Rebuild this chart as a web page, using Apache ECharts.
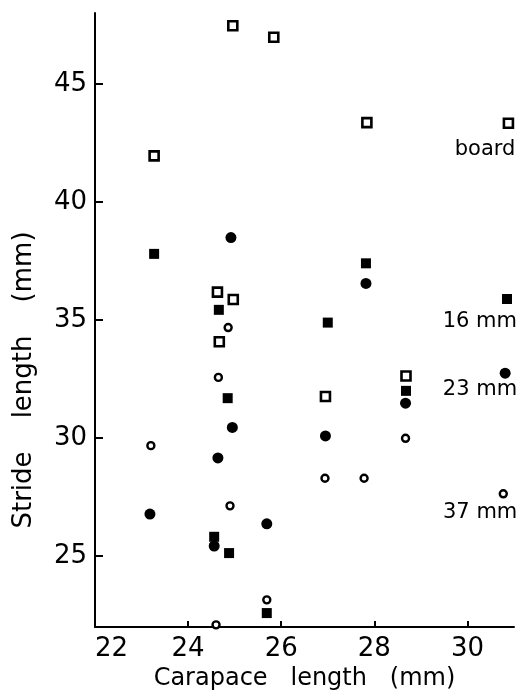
<!DOCTYPE html>
<html>
<head>
<meta charset="utf-8">
<script src="https://cdn.jsdelivr.net/npm/echarts@6/dist/echarts.min.js"></script>
<style>
  html, body { margin: 0; background: #fff; }
  #chart { width: 520px; height: 700px; }
</style>
</head>
<body>
<div id="chart"></div>
<script>
// [carapace length, stride length], last point of each set carries the set's label
const board = [
  [23.27, 41.95], [24.96, 47.46], [25.84, 46.97], [24.63, 36.18], [24.97, 35.87],
  [24.67, 34.08], [27.84, 43.36], [26.95, 31.76], [28.68, 32.63], [30.88, 43.33]
];
const mm16 = [
  [23.27, 37.8], [24.66, 35.43], [24.85, 31.69], [27.82, 37.4], [27.0, 34.89],
  [28.68, 32.0], [24.56, 25.82], [24.88, 25.13], [25.69, 22.59], [30.85, 35.89]
];
const mm23 = [
  [24.92, 38.49], [27.82, 36.55], [24.95, 30.45], [24.64, 29.16], [23.18, 26.78],
  [24.56, 25.43], [25.69, 26.37], [26.95, 30.09], [28.67, 31.48], [30.81, 32.75]
];
const mm37 = [
  [24.86, 34.68], [24.65, 32.57], [23.2, 29.68], [24.9, 27.13], [26.94, 28.3],
  [27.78, 28.3], [28.67, 29.99], [25.69, 23.15], [24.6, 22.09], [30.77, 27.64]
];
const setNames = ['board', '16 mm', '23 mm', '37 mm'];
const xLabels = [22, 24, 26, 28, 30];
const xTickVals = [24, 26, 28, 30];
const yTicks = [25, 30, 35, 40, 45];

const FONT = 'DejaVu Sans';

function withLabel(points, name, dist, dx) {
  return points.map((p, i) => {
    if (i !== points.length - 1) return p;
    return {
      value: p,
      label: {
        show: true,
        formatter: name,
        position: 'bottom',
        distance: dist,
        align: 'right',
        offset: [dx, 0],
        color: '#000',
        fontFamily: FONT,
        fontSize: 21
      }
    };
  });
}

const chart = echarts.init(document.getElementById('chart'));
chart.setOption({
  animation: false,
  backgroundColor: '#fff',
  grid: { left: 95, right: 6, top: 13, bottom: 73, containLabel: false },
  xAxis: {
    type: 'value',
    min: 22,
    max: 31,
    name: 'Carapace   length   (mm)',
    nameLocation: 'middle',
    nameGap: 40,
    nameTextStyle: { fontFamily: FONT, fontSize: 24, color: '#000' },
    axisLine: { show: true, onZero: false, lineStyle: { color: '#000', width: 2 } },
    axisTick: { show: true, inside: true, length: 6, customValues: xTickVals, lineStyle: { color: '#000', width: 2 } },
    axisLabel: { customValues: xLabels, margin: 9, fontFamily: FONT, fontSize: 26, color: '#000', alignMinLabel: 'left' },
    splitLine: { show: false }
  },
  yAxis: {
    type: 'value',
    min: 22,
    max: 48,
    name: 'Stride    length    (mm)',
    nameLocation: 'middle',
    nameRotate: 90,
    nameGap: 58,
    nameTextStyle: { fontFamily: FONT, fontSize: 26, color: '#000', padding: [0, 120, 0, 0] },
    axisLine: { show: true, onZero: false, lineStyle: { color: '#000', width: 2 } },
    axisTick: { show: true, inside: true, length: 8, customValues: yTicks, lineStyle: { color: '#000', width: 2 } },
    axisLabel: { customValues: yTicks, margin: 8, fontFamily: FONT, fontSize: 26, color: '#000' },
    splitLine: { show: false }
  },
  series: [
    {
      name: setNames[0], type: 'scatter', symbol: 'rect', symbolSize: 9,
      itemStyle: { color: '#fff', borderColor: '#000', borderWidth: 2.6, opacity: 1 },
      data: withLabel(board, setNames[0], 10, 7), z: 3
    },
    {
      name: setNames[1], type: 'scatter', symbol: 'rect', symbolSize: 10,
      itemStyle: { color: '#000', opacity: 1 },
      data: withLabel(mm16, setNames[1], 7, 10), z: 2
    },
    {
      name: setNames[2], type: 'scatter', symbol: 'circle', symbolSize: 11,
      itemStyle: { color: '#000', opacity: 1 },
      data: withLabel(mm23, setNames[2], 0, 12), z: 2
    },
    {
      name: setNames[3], type: 'scatter', symbol: 'circle', symbolSize: 7,
      itemStyle: { color: '#fff', borderColor: '#000', borderWidth: 2.4, opacity: 1 },
      data: withLabel(mm37, setNames[3], 4, 14), z: 3
    }
  ]
});
</script>
</body>
</html>
